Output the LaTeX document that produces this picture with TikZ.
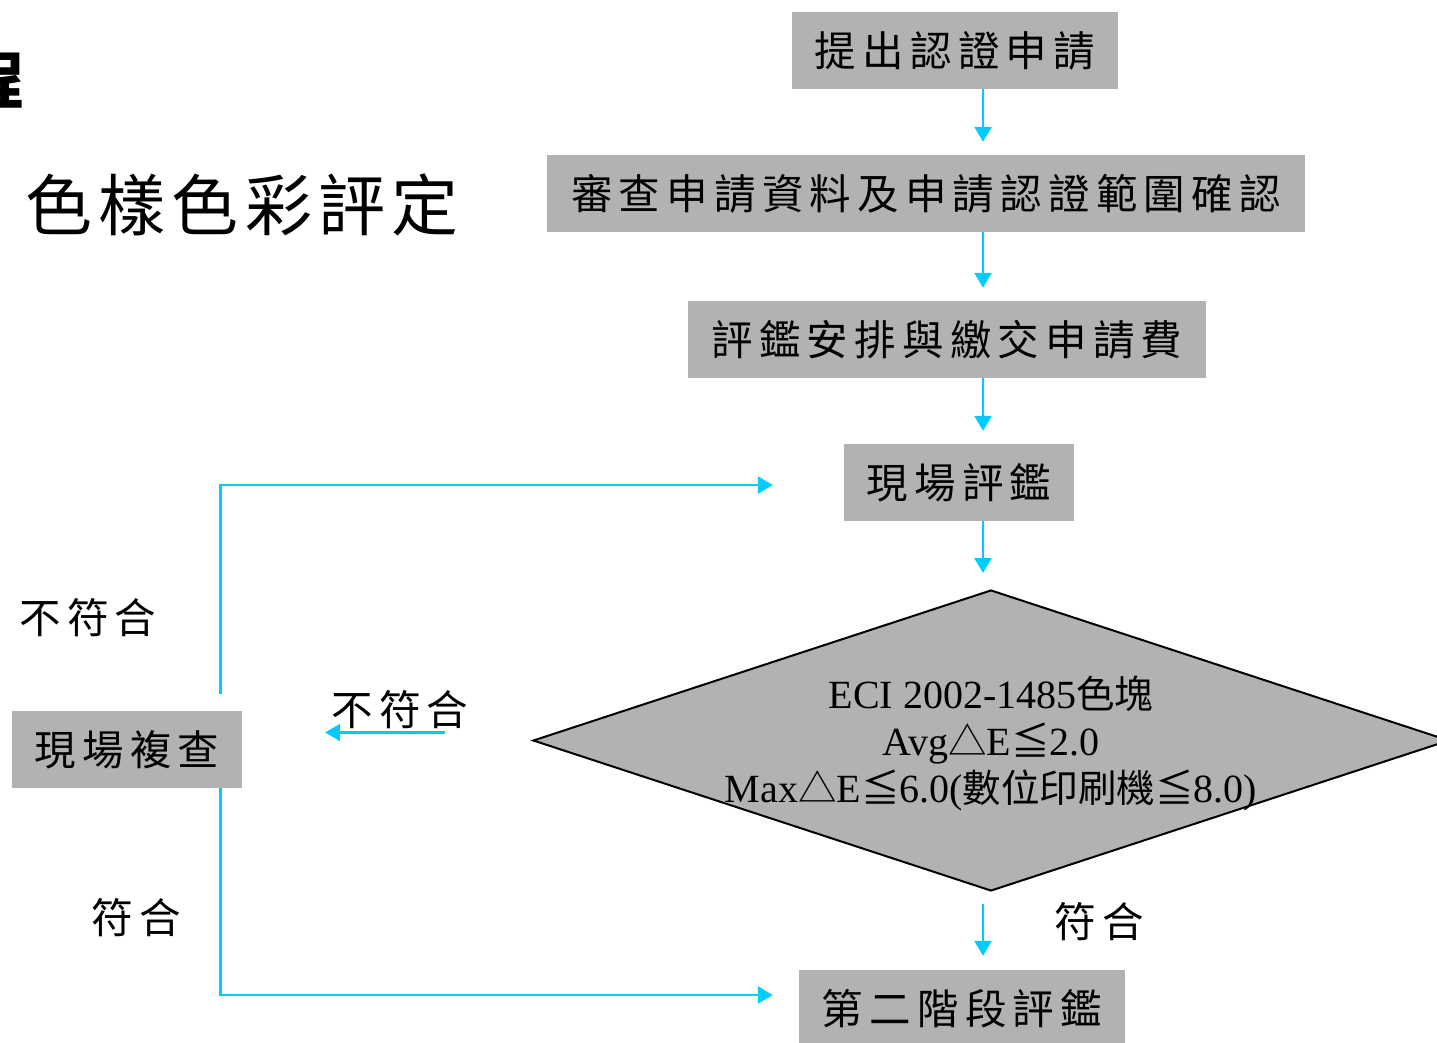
\documentclass[tikz,border=0pt]{standalone}
\usepackage{fontspec}
\usetikzlibrary{arrows.meta,shapes.geometric}
\setmainfont{Liberation Serif}
\newfontfamily\cjkplain{Noto Sans CJK TC}
\newfontfamily\cjkspaced[LetterSpace=15]{Noto Sans CJK TC}
\newfontfamily\cjktitle[LetterSpace=9]{Noto Sans CJK TC}
\newcommand\cjd[1]{{\cjkplain\fontsize{38.5}{47}\selectfont #1}}
\definecolor{boxgray}{RGB}{178,178,178}
\definecolor{flowcyan}{RGB}{0,204,255}
\tikzset{
  stepbox/.style={fill=boxgray, inner sep=0pt, minimum height=77pt,
    font=\cjkspaced\fontsize{41.5}{48}\selectfont},
  flow/.style={draw=flowcyan, line width=2.6pt, -{Triangle[width=17pt,length=15pt]}},
  lbl/.style={inner sep=0pt, font=\cjkspaced\fontsize{41.5}{48}\selectfont}
}
\begin{document}
\begin{tikzpicture}[x=1pt,y=-1pt]
\useasboundingbox (0,0) rectangle (1437,1042);
% title
\node[anchor=east, inner sep=0pt, font=\cjkplain\bfseries\fontsize{62}{70}\selectfont] (ttlA) at (25,80) {程};
\node[inner sep=0pt, font=\cjktitle\fontsize{67}{76}\selectfont] (ttlB) at (242,205) {色樣色彩評定};
% boxes
\node[stepbox, minimum width=326pt] (b1) at (955,50.5) {提出認證申請};
\node[stepbox, minimum width=758pt] (b2) at (926,193.5) {審查申請資料及申請認證範圍確認};
\node[stepbox, minimum width=518pt] (b3) at (947,339.5) {評鑑安排與繳交申請費};
\node[stepbox, minimum width=230pt] (b4) at (959,482.5) {現場評鑑};
\node[stepbox, minimum width=326pt] (b5) at (962,1008.5) {第二階段評鑑};
\node[stepbox, minimum width=230pt] (re) at (127,749.5) {現場複查};
% decision
\node[diamond, draw=black, line width=2pt, fill=boxgray, minimum width=916pt, minimum height=301pt, inner sep=0pt] (dec) at (991,740.5) {};
\node[align=center, inner sep=0pt, font=\fontsize{40}{47}\selectfont] (dtext) at (991,743)
  {ECI 2002-1485\cjd{色塊}\\ Avg\cjd{△}E\cjd{≦}2.0\\ Max\cjd{△}E\cjd{≦}6.0(\cjd{數位印刷機≦}8.0)};
% labels
\node[lbl] (l1) at (88,618) {不符合};
\node[lbl] (l2) at (136,918) {符合};
\node[lbl] (l3) at (1099,922) {符合};
\node[lbl] (l4) at (400,710) {不符合};
% connectors
\coordinate (ax) at (983,0);
\draw[flow, shorten >=13pt] (b1.south -| ax) -- (b2.north -| ax);
\draw[flow, shorten >=13pt] (b2.south -| ax) -- (b3.north -| ax);
\draw[flow, shorten >=13pt] (b3.south -| ax) -- (b4.north -| ax);
\draw[flow, shorten >=16pt] (b4.south -| ax) -- (dec.north -| ax);
\draw[flow, shorten <=12pt, shorten >=14pt] (dec.south -| ax) -- (b5.north -| ax);
\draw[flow, shorten <=87pt, shorten >=83pt] ([yshift=8pt]dec.west) -- ([yshift=8pt]dec.west -| re.east);
\draw[flow, shorten >=71pt] ([xshift=-22pt,yshift=17pt]re.north east) |- ([yshift=-2.5pt]b4.west);
\draw[flow, shorten >=26pt] ([xshift=-22pt]re.south east) |- ([yshift=13.5pt]b5.west);
\end{tikzpicture}
\end{document}
